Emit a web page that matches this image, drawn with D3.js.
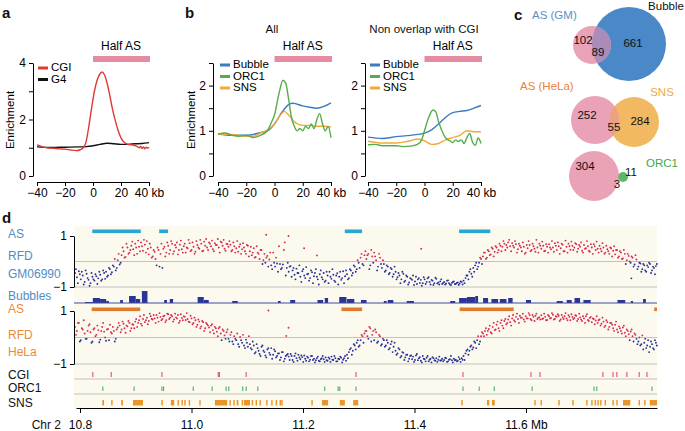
<!DOCTYPE html>
<html>
<head>
<meta charset="utf-8">
<script src="https://cdn.jsdelivr.net/npm/d3@7"></script>
<style>
  body { margin: 0; background: #fff; }
  svg { font-family: "Liberation Sans", Arial, Helvetica, sans-serif; }
</style>
</head>
<body>
<svg width="685" height="431"></svg>
<script>
// ---------- panel a : enrichment around half AS  [kb, enrichment]
const cgiA = [[-40,1.1],[-37,1.05],[-33,1.0],[-28,0.98],[-24,0.96],[-20,0.95],[-16,0.92],[-12,0.9],[-9,0.93],[-7,1.0],
  [-5,1.2],[-3,1.75],[-1,2.4],[1,3.0],[3,3.4],[5,3.62],[6.5,3.68],[8,3.6],[10,3.3],[12,2.85],[14,2.35],[16,1.95],
  [18,1.6],[20,1.35],[22,1.2],[25,1.12],[28,1.1],[31,1.06],[33,1.0],[34,1.05],[35,0.98],[36,1.03],[37,0.96],[38,1.02],[39,0.99],[40,1.02]];
const g4A = [[-40,1.03],[-30,1.01],[-20,1.02],[-10,1.03],[-5,1.04],[0,1.07],[5,1.12],[10,1.16],[15,1.14],[20,1.12],[25,1.12],[30,1.14],[35,1.15],[40,1.18]];

// ---------- panel b : All
const bubbleAll = [[-40,0.93],[-30,0.9],[-20,0.9],[-10,0.96],[-5,1.0],[0,1.15],[5,1.4],[10,1.58],[13,1.61],[20,1.55],[25,1.52],[30,1.5],[35,1.54],[40,1.62]];
const orcAll = [[-40,0.92],[-35,0.95],[-30,0.9],[-25,0.88],[-20,0.9],[-15,0.85],[-10,0.9],[-5,1.0],[-2,1.2],[0,1.35],[3,1.8],[6,2.12],[8,2.05],
  [10,1.7],[12,1.3],[14,1.1],[16,1.0],[18,1.05],[20,1.0],[22,1.1],[24,1.05],[26,1.15],[28,1.05],[30,1.25],[32,1.38],[34,1.15],[36,1.0],[38,1.1],[40,0.85]];
const snsAll = [[-40,0.92],[-30,0.92],[-20,0.88],[-15,0.88],[-10,0.95],[-5,1.02],[0,1.15],[5,1.38],[7,1.43],[10,1.35],[14,1.2],[20,1.12],[25,1.12],[30,1.1],[35,1.1],[40,1.08]];
// ---------- panel b : non overlap with CGI
const bubbleNon = [[-40,0.86],[-30,0.83],[-20,0.87],[-10,0.9],[0,0.95],[5,1.02],[10,1.15],[15,1.3],[20,1.4],[25,1.43],[30,1.45],[35,1.5],[40,1.56]];
const orcNon = [[-40,0.69],[-35,0.7],[-30,0.67],[-25,0.67],[-20,0.67],[-15,0.65],[-10,0.66],[-5,0.7],[-2,0.8],[0,1.0],[3,1.3],[6,1.46],[8,1.42],
  [10,1.2],[13,0.95],[15,0.84],[18,0.78],[20,0.74],[22,0.8],[24,0.76],[26,0.8],[28,0.72],[30,0.85],[32,0.94],[34,0.75],[36,0.68],[38,0.84],[40,0.72]];
const snsNon = [[-40,0.77],[-30,0.73],[-20,0.73],[-15,0.75],[-10,0.78],[-5,0.82],[0,0.78],[5,0.7],[10,0.72],[15,0.8],[20,0.85],[25,0.9],[30,1.0],[35,0.98],[40,0.98]];

// ---------- panel c : venn counts [only A, overlap, only B]
const vennGM = [102, 89, 661];
const vennSNS = [252, 55, 284];
const vennORC = [304, 3, 11];

// ---------- panel d : chr2 10.79-11.83 Mb
const rfdStart = 10.791, rfdEnd = 11.833;   // evenly spaced RFD bins, two values per bin
// RFD x100, GM06990 (bin start / bin middle)
const rfdGM = [
  -45,-62,-38,-70,-55,-80,-48,-72,-85,-60, -75,-58,-66,-52,-70,-45,-40,-55,-30,-42,
  -20,-35,5,-12,25,40,18,55,35,62, 48,70,30,58,75,42,66,80,28,55,
  20,38,-15,45,30,-25,58,35,62,45, 70,40,55,28,66,48,60,35,52,72,
  45,58,38,65,50,70,42,62,55,75, 60,48,72,65,55,78,62,50,70,58,
  66,45,60,52,38,68,48,55,30,62, 40,25,52,18,35,10,45,5,-5,22,
  8,-15,35,-20,-8,60,-30,-12,75,-25, -40,-18,-35,-52,-28,-45,-60,-38,-55,-22,
  -48,-65,-42,-58,-30,-70,-50,-62,-45,-75, -55,-40,-68,-52,-80,-46,-60,-72,-38,-58,
  -50,-65,-35,-45,-20,-30,-5,15,-10,25, 10,30,-15,20,35,5,-20,15,-25,-10,
  -35,-20,-45,-30,-50,-40,-62,-55,-70,-48, -75,-60,-82,-68,-55,-78,-88,-65,-72,-85,
  -70,-80,-62,-90,-75,-85,-68,-82,-78,-88, -80,-86,-74,-90,-84,-78,-88,-82,-86,-80,
  -75,-65,-55,-40,-48,-25,-15,-30,-5,10, 20,35,15,40,28,50,38,55,45,62,
  58,70,65,75,60,72,55,68,48,62, 40,58,35,52,65,45,60,38,55,70,
  50,62,42,58,68,48,55,72,45,60, 52,66,40,58,70,46,62,55,68,50,
  58,42,65,52,60,38,55,68,45,50, 62,40,55,35,48,30,52,42,28,45,
  20,35,12,30,5,22,-5,15,-12,8, -20,-8,-30,-15,-40,-22,-10,-35,-25,-18];
const rfdGMmid = [
  -30,-85,-50,-40,-90,-35,-65,-95,-45,-70, -50,-88,-40,-75,-35,-68,-60,-25,-50,-15,
  10,-25,30,-5,55,15,70,30,45,78, 25,55,82,40,60,85,35,50,70,15,
  45,10,55,-20,70,50,20,75,30,80, 30,65,75,45,82,35,70,55,85,40,
  75,30,80,55,85,40,78,88,45,70, 82,40,65,88,35,75,85,42,68,80,
  40,75,35,80,58,30,72,40,65,20, 58,35,15,60,30,45,-10,30,15,-20,
  35,-30,-5,15,-40,-10,-25,45,-55,-5, -20,-60,-25,-70,-45,-15,-80,-30,-65,-50,
  -75,-35,-85,-45,-60,-90,-35,-70,-80,-40, -85,-60,-30,-75,-55,-90,-40,-65,-85,-35,
  -70,-30,-55,-15,-40,5,-25,30,-15,40, 25,-30,45,-5,20,-35,30,-10,5,-40,
  -15,-50,-25,-60,-20,-70,-45,-85,-40,-80, -55,-90,-65,-72,-92,-60,-70,-84,-95,-62,
  -88,-66,-80,-72,-92,-64,-86,-90,-70,-84, -90,-75,-85,-92,-80,-88,-84,-92,-78,-90,
  -85,-55,-70,-30,-60,-40,-5,-20,15,-10, 35,10,45,25,55,20,60,35,70,40,
  80,45,55,85,40,62,80,35,70,55, 75,30,65,80,40,70,50,85,35,62,
  78,40,68,35,55,80,38,62,75,30, 70,40,82,35,60,78,45,72,38,65,
  75,35,50,80,42,68,30,60,78,35, 50,72,30,62,40,55,20,60,45,15,
  40,10,45,-10,30,0,20,-20,25,-30, -5,-40,-10,-35,-15,-5,-45,-20,-50,-10];
// RFD x100, HeLa (bin start / bin middle)
const rfdHeLa = [
  40,25,55,-10,30,15,-5,45,20,-15, 35,10,28,-8,40,22,-12,32,48,15,
  25,-5,38,45,30,52,18,42,55,35, 48,60,40,65,52,70,58,75,62,80,
  68,72,85,60,78,70,82,65,88,75, 80,68,76,85,62,74,80,66,70,58,
  72,55,65,48,60,42,58,35,50,38, 45,28,40,22,35,15,30,8,20,-5,
  10,-15,5,-10,-25,2,-20,-30,-8,-35, -25,-45,-30,-55,-40,-62,-35,-50,-68,-45,
  -58,-40,-65,-52,-70,-60,-75,-55,-80,-66, -72,-62,-85,-70,-78,-65,-82,-74,-68,-88,
  -76,-84,-70,-80,-86,-72,-90,-78,-82,-75, -88,-80,-72,-85,-78,-90,-82,-76,-84,-70,
  -65,-55,-40,-50,-30,-20,-35,-10,5,15, 25,-5,35,10,-10,20,-15,5,-25,-10,
  -30,-20,-40,-15,-35,-50,-60,-45,-70,-58, -75,-65,-80,-68,-72,-85,-62,-78,-88,-70,
  -82,-76,-90,-80,-74,-86,-78,-84,-88,-80, -85,-78,-90,-82,-86,-80,-84,-88,-82,-78,
  -70,-60,-45,-50,-30,-38,-20,-10,-25,5, 15,25,10,32,20,40,28,48,35,55,
  45,62,50,68,58,72,65,78,70,82, 75,68,80,72,85,65,78,82,70,76,
  84,72,78,66,80,74,86,70,78,82, 68,76,80,72,84,65,78,74,82,70,
  76,62,72,80,66,74,58,70,64,55, 68,52,60,45,58,40,55,35,48,30,
  42,25,38,18,30,12,22,5,15,-5, -15,-30,8,-20,-40,-10,-35,-25,-45,-20];
const rfdHeLaMid = [
  10,55,-15,35,65,-5,25,50,-20,30, 5,45,-18,25,55,0,30,-10,20,40,
  -15,30,55,20,60,35,45,62,25,50, 35,70,55,80,45,85,65,50,90,70,
  85,55,75,92,65,80,58,90,70,85, 60,90,72,55,88,65,78,92,60,82,
  50,75,40,68,35,62,25,55,45,20, 50,15,35,5,40,-10,25,-5,30,-15,
  20,-25,-5,15,-35,-10,10,-40,-20,5, -40,-15,-60,-25,-50,-70,-30,-55,-75,-40,
  -65,-80,-45,-75,-60,-85,-55,-90,-70,-62, -85,-70,-92,-60,-88,-75,-68,-92,-80,-72,
  -90,-70,-85,-94,-78,-88,-82,-70,-92,-86, -75,-92,-84,-70,-90,-80,-72,-94,-78,-88,
  -78,-45,-65,-25,-45,-10,-30,10,-20,25, 5,40,-15,25,30,-20,10,-30,-5,-35,
  -10,-45,-25,-55,-20,-65,-40,-75,-55,-85, -65,-90,-70,-82,-92,-68,-86,-74,-94,-80,
  -90,-70,-84,-94,-78,-88,-92,-72,-86,-90, -76,-92,-84,-70,-94,-86,-90,-74,-92,-84,
  -85,-50,-65,-35,-45,-15,-40,5,-15,20, 5,35,25,45,15,55,30,60,25,65,
  35,70,55,80,45,85,60,90,55,75, 90,60,72,92,70,85,62,90,75,68,
  70,90,65,85,72,92,68,80,88,62, 85,70,92,65,78,88,70,84,62,90,
  68,80,55,88,62,78,72,50,80,65, 45,75,40,65,30,55,48,25,60,20,
  35,15,45,5,25,-10,30,-15,10,-25, 0,-25,-45,-5,-30,-55,-15,-40,-10,-30];
const outGM = [[11.134,1.05],[11.174,1.0],[11.202,0.52],[11.225,0.24],[11.412,0.5],[11.789,-0.66]];
const outHeLa = [[11.138,1.02],[11.174,0.37],[11.170,0.06]];

const asGM = [[10.822,10.909],[10.942,10.958],[11.275,11.306],[11.480,11.536]];
const asHeLa = [[10.821,10.908],[11.269,11.306],[11.481,11.578],[11.830,11.835]];

// bubble histogram [start, end, count]
const bubbles = [[10.809,10.823,1],[10.823,10.836,5],[10.836,10.847,4],[10.847,10.852,2],[10.872,10.877,3],
  [10.888,10.900,7],[10.900,10.908,4],[10.911,10.921,12],[10.951,10.956,3],[10.961,10.967,4],
  [11.011,11.022,6],[11.022,11.031,3],[11.073,11.083,2],[11.155,11.160,2],[11.177,11.186,3],
  [11.226,11.236,3],[11.239,11.245,5],[11.265,11.278,6],[11.279,11.292,4],[11.304,11.314,3],
  [11.345,11.350,2],[11.352,11.362,3],[11.386,11.399,2],[11.464,11.473,2],[11.480,11.494,5],
  [11.494,11.509,6],[11.509,11.514,7],[11.523,11.532,5],[11.538,11.550,4],[11.553,11.565,4],
  [11.568,11.576,5],[11.600,11.609,3],[11.655,11.666,2],[11.673,11.682,3],[11.687,11.697,5],
  [11.703,11.716,3],[11.764,11.778,3],[11.788,11.792,2],[11.810,11.815,4]];

const cgiPos = [10.823,10.856,10.947,11.048,11.050,11.098,11.295,11.487,11.609,11.625,11.738,11.756,11.763,11.781,11.803,11.817];
const orcPos = [10.841,10.897,10.947,10.950,11.003,11.037,11.062,11.067,11.092,11.098,11.119,11.239,11.263,11.266,
  11.295,11.487,11.516,11.543,11.611,11.722,11.727,11.826];
const snsSeg = [[10.840,10.843],[10.856,10.858],[10.874,10.877],[10.895,10.913],[10.946,10.948],[10.963,10.969],
  [10.975,10.977],[10.982,10.984],[10.987,10.989],[10.995,10.997],[11.014,11.016],[11.042,11.064],[11.068,11.070],
  [11.075,11.077],[11.081,11.084],[11.090,11.092],[11.094,11.105],[11.108,11.110],[11.115,11.117],[11.122,11.124],
  [11.134,11.136],[11.143,11.145],[11.151,11.153],[11.158,11.160],[11.161,11.163],[11.215,11.217],[11.234,11.245],
  [11.266,11.275],[11.290,11.299],[11.484,11.486],[11.530,11.534],[11.539,11.544],[11.615,11.617],[11.626,11.628],
  [11.658,11.660],[11.683,11.685],[11.708,11.710],[11.717,11.719],[11.723,11.725],[11.728,11.730],[11.733,11.735],
  [11.741,11.743],[11.755,11.757],[11.762,11.764],[11.774,11.787],[11.802,11.804],[11.812,11.814],[11.822,11.835]];
const xTicksD = [10.8, 11.0, 11.2, 11.4, 11.6];

// ================================================================
const svg = d3.select("svg");
const BLUE = "#3b7bbf", GREEN = "#55ad48", ORANGE = "#f2a93b", RED = "#e03a30", PINK = "#e58ba2";

function txt(x, y, s, opt = {}) {
  return svg.append("text").attr("x", x).attr("y", y).text(s)
    .attr("font-size", opt.size || 11.5)
    .attr("font-weight", opt.weight || null)
    .attr("fill", opt.color || "#111")
    .attr("text-anchor", opt.anchor || "start")
    .attr("dominant-baseline", "middle");
}

// panel letters
txt(2, 14, "a", {size: 15, weight: "bold"});
txt(185, 14, "b", {size: 15, weight: "bold"});
txt(514, 16, "c", {size: 15, weight: "bold"});
txt(2, 219, "d", {size: 15, weight: "bold"});

// profile panels (a, b)
function profile(x0, x1, axisX, yMax, yTicks, series, legend, legX) {
  const x = d3.scaleLinear().domain([-40, 40]).range([x0, x1]);
  const y = d3.scaleLinear().domain([0, yMax]).range([176, 63]);
  const g = svg.append("g");

  g.append("g").attr("transform", `translate(${axisX},0)`)
    .call(d3.axisLeft(y).tickValues(yTicks).tickSize(4).tickSizeOuter(0).tickPadding(3)
      .tickFormat(d => Number.isInteger(d) && (yMax < 3 || d % 2 === 0) ? d : ""))
    .attr("font-family", null).attr("font-size", 12);
  g.append("g").attr("transform", "translate(0,182)")
    .call(d3.axisBottom(x).tickValues([-40, -20, 0, 20, 40]).tickSize(4).tickSizeOuter(0).tickPadding(2)
      .tickFormat(d => d === 40 ? "40 kb" : d3.format("d")(d)))
    .attr("font-family", null).attr("font-size", 12);

  // half AS bar
  g.append("rect").attr("x", x(0)).attr("y", 56).attr("width", x(40) - x(0) + 1).attr("height", 6).attr("fill", PINK);
  g.append("text").attr("x", (x(0) + x(40)) / 2).attr("y", 47).attr("text-anchor", "middle")
    .attr("dominant-baseline", "middle").attr("font-size", 12).text("Half AS");

  const line = d3.line().x(d => x(d[0])).y(d => y(d[1])).curve(d3.curveMonotoneX);
  series.forEach(s => {
    g.append("path").datum(s.data).attr("d", line).attr("fill", "none")
      .attr("stroke", s.color).attr("stroke-width", 1.4);
  });
  legend.forEach((s, i) => {
    const ly = legX[1] + i * 11.5;
    g.append("line").attr("x1", legX[0]).attr("x2", legX[0] + 10).attr("y1", ly).attr("y2", ly)
      .attr("stroke", s.color).attr("stroke-width", 3);
    g.append("text").attr("x", legX[0] + 13).attr("y", ly).attr("dominant-baseline", "middle")
      .attr("font-size", 11.5).text(s.name);
  });
}

profile(37, 149, 33, 4, [0, 1, 2, 3, 4],
  [{data: g4A, color: "#111"}, {data: cgiA, color: RED}],
  [{name: "CGI", color: RED}, {name: "G4", color: "#111"}], [38, 68]);
const bSeries = (b, o, s) => [{data: b, color: BLUE}, {data: s, color: ORANGE}, {data: o, color: GREEN}];
const bLegend = [{name: "Bubble", color: BLUE}, {name: "ORC1", color: GREEN}, {name: "SNS", color: ORANGE}];
profile(218, 331, 213, 2.5, [0, 0.5, 1, 1.5, 2, 2.5], bSeries(bubbleAll, orcAll, snsAll), bLegend, [220, 65]);
profile(368, 481, 365, 2.5, [0, 0.5, 1, 1.5, 2, 2.5], bSeries(bubbleNon, orcNon, snsNon), bLegend, [370, 65]);

// y labels
[[11, 120], [192, 120]].forEach(p => {
  svg.append("text").attr("transform", `translate(${p[0]},${p[1]}) rotate(-90)`)
    .attr("text-anchor", "middle").attr("dominant-baseline", "middle").attr("font-size", 11.5).text("Enrichment");
});
txt(272, 30, "All", {anchor: "middle"});
txt(424, 30, "Non overlap with CGI", {anchor: "middle"});

// ---------- panel c
function venn(a, b, colA, colB, colMix, id) {
  const defs = svg.append("defs");
  defs.append("clipPath").attr("id", id).append("circle").attr("cx", a[0]).attr("cy", a[1]).attr("r", a[2]);
  svg.append("circle").attr("cx", b[0]).attr("cy", b[1]).attr("r", b[2]).attr("fill", colB);
  svg.append("circle").attr("cx", a[0]).attr("cy", a[1]).attr("r", a[2]).attr("fill", colA);
  svg.append("circle").attr("cx", b[0]).attr("cy", b[1]).attr("r", b[2]).attr("fill", colMix)
    .attr("clip-path", `url(#${id})`);
}
venn([592, 45, 19], [629, 44, 37], "#e9a2b6", "#4a88c7", "#a98cb9", "v1");
venn([595, 120, 24], [634, 122, 25], "#e9a2b6", "#f2b962", "#e9a383", "v2");
venn([594, 176, 25], [623, 177, 5], "#e9a2b6", "#5db866", "#80b27a", "v3");

txt(532, 16, "AS (GM)", {color: "#5b8fc3"});
txt(666, 7, "Bubble", {anchor: "middle"});
txt(583, 41, vennGM[0], {anchor: "middle"});
txt(598, 53, vennGM[1], {anchor: "middle"});
txt(633, 44, vennGM[2], {anchor: "middle"});
txt(520, 87, "AS (HeLa)", {color: "#ec8236"});
txt(662, 93, "SNS", {anchor: "middle", color: "#eeaa44"});
txt(587, 116, vennSNS[0], {anchor: "middle"});
txt(614, 128, vennSNS[1], {anchor: "middle"});
txt(640, 122, vennSNS[2], {anchor: "middle"});
txt(662, 164, "ORC1", {anchor: "middle", color: "#3aa84a"});
txt(585, 167, vennORC[0], {anchor: "middle"});
txt(617, 185, vennORC[1], {anchor: "middle"});
txt(631, 173, vennORC[2], {anchor: "middle"});

// ---------- panel d
const xd = d3.scaleLinear().domain([10.8, 11.6]).range([80, 526]);
const xL = 74, xR = 657;
const yGM = d3.scaleLinear().domain([-1, 1]).range([287, 236]);
const yHe = d3.scaleLinear().domain([-1, 1]).range([364, 311]);
const yBub = d3.scaleLinear().domain([0, 12]).range([303, 291]);
const gd = svg.append("g");

gd.append("rect").attr("x", xL).attr("y", 226).attr("width", xR - xL).attr("height", 182).attr("fill", "#fcfaee");

// guide lines
[yGM(0), yGM(-1), yHe(0), yHe(-1), 379, 394].forEach(yy => {
  gd.append("line").attr("x1", xL).attr("x2", xR).attr("y1", yy).attr("y2", yy)
    .attr("stroke", "#b4b4b0").attr("stroke-width", 0.8);
});

// AS bars
gd.selectAll(".asgm").data(asGM).join("rect")
  .attr("x", d => xd(d[0])).attr("width", d => xd(d[1]) - xd(d[0])).attr("y", 229.5).attr("height", 3.6)
  .attr("fill", "#2aa6d2");
gd.selectAll(".ashe").data(asHeLa).join("rect")
  .attr("x", d => xd(d[0])).attr("width", d => xd(d[1]) - xd(d[0])).attr("y", 307.5).attr("height", 3.6)
  .attr("fill", "#e07a2e");

// RFD scatter
function rfd(vals, mids, outs, y) {
  const step = (rfdEnd - rfdStart) / (vals.length - 1);
  const pts = vals.map((v, i) => [rfdStart + i * step, v / 100])
    .concat(mids.map((v, i) => [rfdStart + (i + 0.5) * step, v / 100]))
    .concat(outs);
  gd.append("g").selectAll("circle").data(pts).join("circle")
    .attr("cx", d => xd(d[0])).attr("cy", d => y(d[1])).attr("r", 0.95)
    .attr("fill", d => d[1] >= 0 ? "#d8284f" : "#26309a");
}
rfd(rfdGM, rfdGMmid, outGM, yGM);
rfd(rfdHeLa, rfdHeLaMid, outHeLa, yHe);

// RFD axes
[yGM, yHe].forEach(yy => {
  gd.append("g").attr("transform", `translate(${xL},0)`)
    .call(d3.axisLeft(yy).tickValues([-1, 1]).tickSize(4).tickSizeOuter(0).tickPadding(3).tickFormat(d3.format("d")))
    .attr("font-family", null).attr("font-size", 12);
});

// bubble histogram
gd.append("g").selectAll("rect").data(bubbles).join("rect")
  .attr("x", d => xd(d[0])).attr("width", d => xd(d[1]) - xd(d[0]))
  .attr("y", d => yBub(d[2])).attr("height", d => yBub(0) - yBub(d[2])).attr("fill", "#2b3593");
gd.append("line").attr("x1", xL).attr("x2", xR).attr("y1", yBub(0)).attr("y2", yBub(0))
  .attr("stroke", "#3c4aa3").attr("stroke-width", 1);

// CGI / ORC1 / SNS
gd.append("g").selectAll("line").data(cgiPos).join("line")
  .attr("x1", d => xd(d)).attr("x2", d => xd(d)).attr("y1", 372).attr("y2", 377)
  .attr("stroke", "#d5436b").attr("stroke-width", 1);
gd.append("g").selectAll("line").data(orcPos).join("line")
  .attr("x1", d => xd(d)).attr("x2", d => xd(d)).attr("y1", 386.5).attr("y2", 391)
  .attr("stroke", "#37a85c").attr("stroke-width", 1);
gd.append("g").selectAll("rect").data(snsSeg).join("rect")
  .attr("x", d => xd(d[0])).attr("width", d => Math.max(1.4, xd(d[1]) - xd(d[0])))
  .attr("y", 400).attr("height", 5.5).attr("fill", "#e8952c");

// genomic axis
const xAxisScale = d3.scaleLinear().domain([xd.invert(76), xd.invert(xR)]).range([76, xR]);
gd.append("g").attr("transform", "translate(0,408)")
  .call(d3.axisBottom(xAxisScale).tickValues(xTicksD).tickSize(5).tickSizeOuter(0).tickPadding(7)
    .tickFormat(d => d === 11.6 ? "11.6 Mb" : d3.format(".1f")(d)))
  .attr("font-family", null).attr("font-size", 12);
txt(61, 426, "Chr 2", {anchor: "end", size: 12});

// track labels
const gmCol = "#528cc0", heCol = "#ec8a3a";
[["AS", 235, gmCol], ["RFD", 257, gmCol], ["GM06990", 275, gmCol], ["Bubbles", 297, gmCol],
 ["AS", 310, heCol], ["RFD", 336, heCol], ["HeLa", 353, heCol],
 ["CGI", 376, "#111"], ["ORC1", 389, "#111"], ["SNS", 404, "#111"]].forEach(l => {
  txt(8, l[1], l[0], {color: l[2], size: 12});
});
</script>
</body>
</html>
